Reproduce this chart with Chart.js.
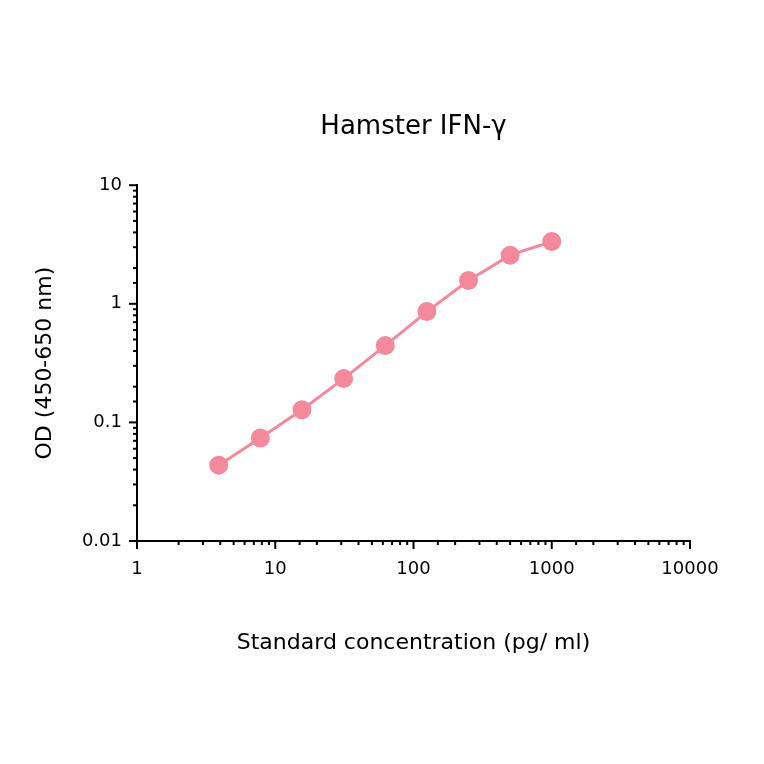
<!DOCTYPE html>
<html><head><meta charset="utf-8">
<script src="https://cdn.jsdelivr.net/npm/chart.js@4"></script>
<style>html,body{margin:0;padding:0;background:#fff}#w{width:764px;height:764px}</style>
</head><body><div id="w"><canvas id="c"></canvas></div>
<script>
const concentrations = [3.9, 7.8, 15.6, 31.25, 62.5, 125, 250, 500, 1000];
const odValues = [0.0436, 0.074, 0.128, 0.234, 0.444, 0.86, 1.57, 2.57, 3.35];
const xTickLabels = [1, 10, 100, 1000, 10000];
const yTickLabels = [0.01, 0.1, 1, 10];
const FONT = "'DejaVu Sans', sans-serif";
const isPow10 = v => Math.abs(Math.log10(v) - Math.round(Math.log10(v))) < 1e-9;

const tickPlugin = {
  id: 'ticks',
  afterDraw(chart) {
    const ctx = chart.ctx;
    ctx.save(); ctx.strokeStyle = '#000'; ctx.lineWidth = 2;
    const xs = chart.scales.x, ys = chart.scales.y;
    xs.ticks.forEach(t => {
      const p = xs.getPixelForValue(t.value), L = isPow10(t.value) ? 8 : 4;
      ctx.beginPath(); ctx.moveTo(p, xs.top); ctx.lineTo(p, xs.top + L); ctx.stroke();
    });
    ys.ticks.forEach(t => {
      const p = ys.getPixelForValue(t.value), L = isPow10(t.value) ? 8 : 4;
      ctx.beginPath(); ctx.moveTo(ys.right, p); ctx.lineTo(ys.right - L, p); ctx.stroke();
    });
    ctx.restore();
  }
};

new Chart(document.getElementById('c'), {
  type: 'line',
  data: { datasets: [{
    data: concentrations.map((x, i) => ({x, y: odValues[i]})),
    borderColor: '#f4899c', backgroundColor: '#f4899c', borderWidth: 3,
    pointRadius: 8, pointHoverRadius: 8, tension: 0
  }]},
  options: {
    responsive: true, maintainAspectRatio: false, animation: false,
    layout: { padding: { left: 0, right: 74, top: 0, bottom: 108 } },
    plugins: {
      legend: { display: false }, tooltip: { enabled: false },
      title: { display: true, text: 'Hamster IFN-γ', fullSize: false, color: '#000',
        font: { family: FONT, size: 26, weight: 'normal' }, padding: { top: 112, bottom: 42 } }
    },
    scales: {
      x: { type: 'logarithmic', min: 1, max: 10000,
        grid: { drawOnChartArea: false, drawTicks: true, tickLength: 8, color: 'rgba(0,0,0,0)' },
        border: { color: '#000', width: 2 },
        ticks: { color: '#000', padding: 10, maxRotation: 0, autoSkip: false,
          font: { family: FONT, size: 18 },
          callback: v => xTickLabels.includes(v) ? String(v) : '' },
        title: { display: true, text: 'Standard concentration (pg/ ml)', color: '#000',
          font: { family: FONT, size: 22 }, padding: { top: 39, bottom: 0 } } },
      y: { type: 'logarithmic', min: 0.01, max: 10,
        afterFit: s => { s.width = 137; },
        grid: { drawOnChartArea: false, drawTicks: true, tickLength: 8, color: 'rgba(0,0,0,0)' },
        border: { color: '#000', width: 2 },
        ticks: { color: '#000', padding: 7, autoSkip: false,
          font: { family: FONT, size: 18 },
          callback: v => yTickLabels.includes(v) ? String(v) : '' },
        title: { display: true, text: 'OD (450-650 nm)', color: '#000',
          font: { family: FONT, size: 22 }, padding: { top: 32, bottom: 0 } } }
    }
  },
  plugins: [tickPlugin]
});
</script></body></html>
